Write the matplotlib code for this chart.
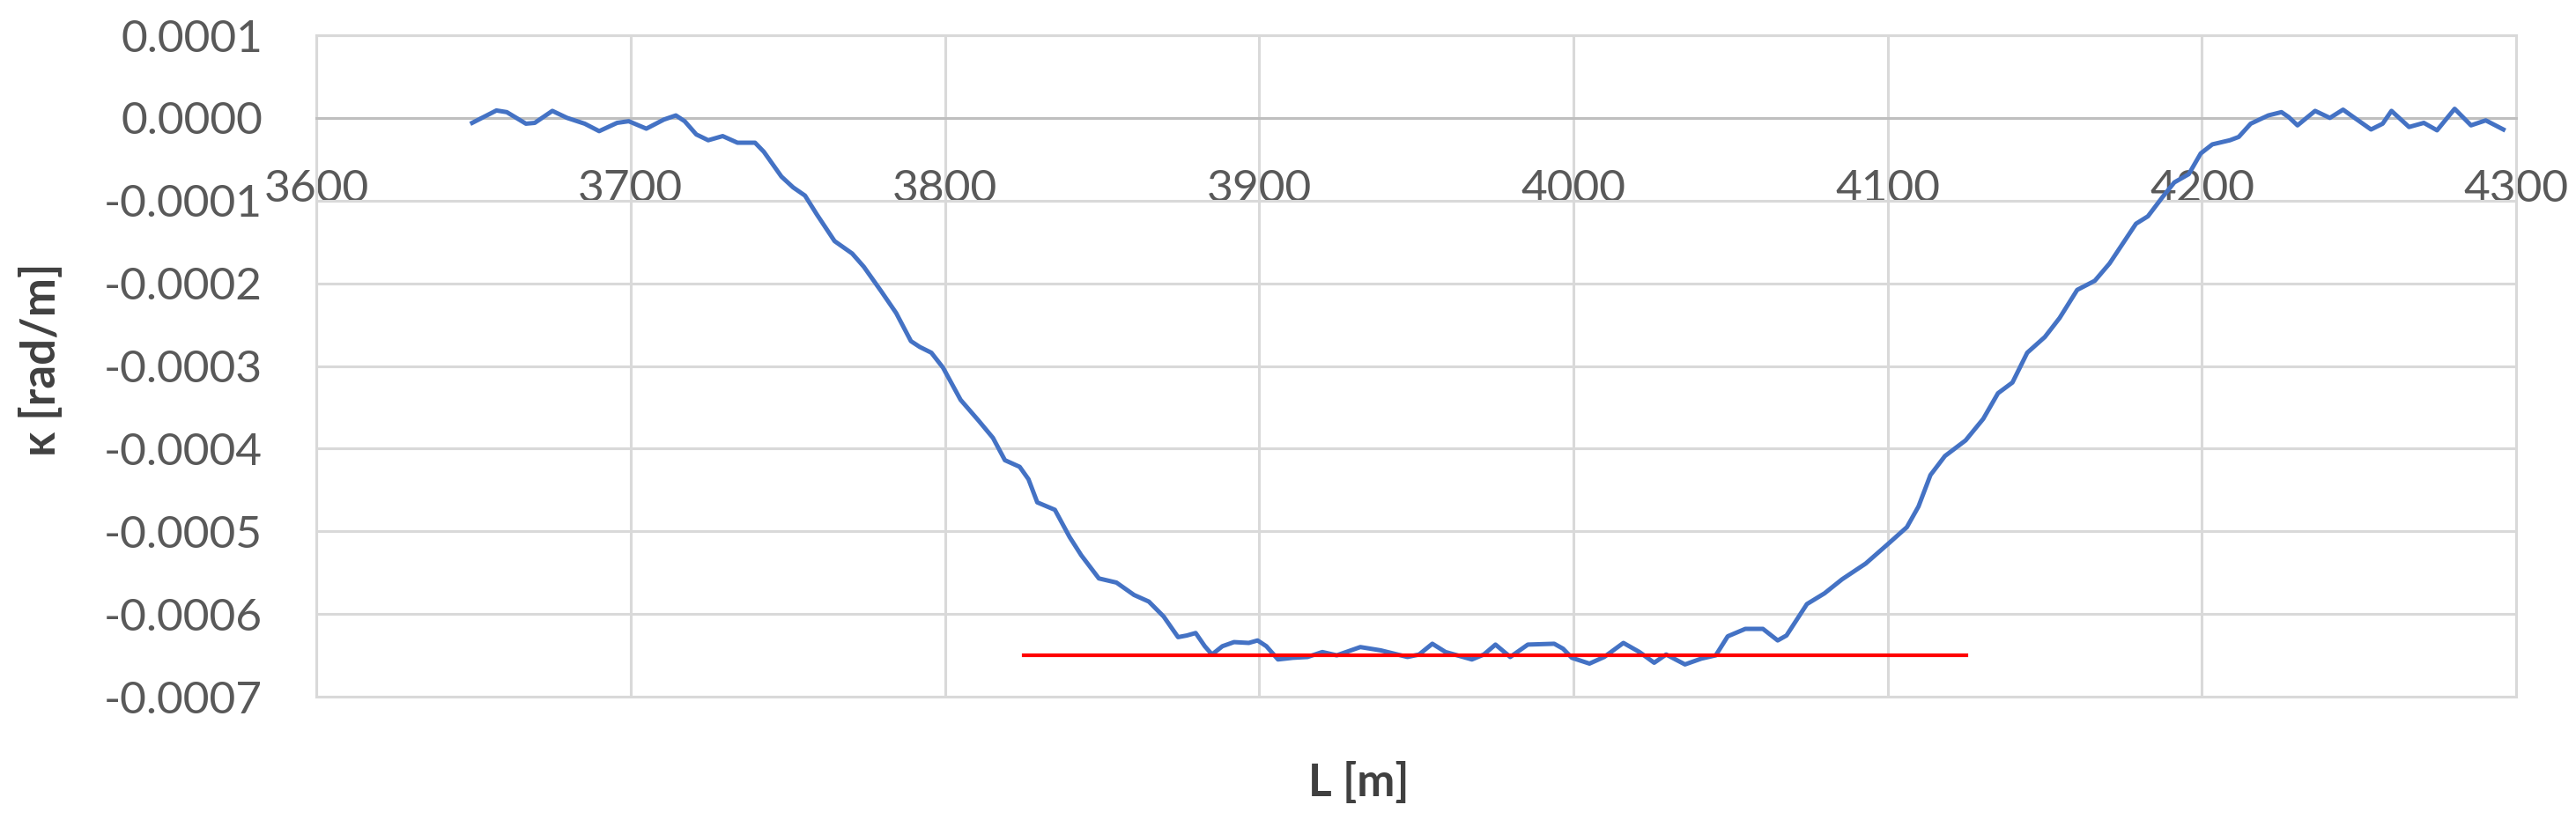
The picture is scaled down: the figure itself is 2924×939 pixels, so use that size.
import matplotlib
matplotlib.use('Agg')
import matplotlib.pyplot as plt
import numpy as np
from matplotlib.ticker import FixedLocator, FixedFormatter

# curvature along the chainage (kappa in 1e-4 rad/m)
L = [3649.6, 3657.3, 3660.6, 3666.7, 3669.5, 3675.1, 3679.8, 3685.4, 3690.0, 3695.7,
     3699.4, 3705.0, 3710.6, 3714.4, 3717.2, 3720.9, 3724.7, 3729.3, 3734.0, 3739.6,
     3742.4, 3748.0, 3751.7, 3755.5, 3759.3, 3764.9, 3770.5, 3774.2, 3779.8, 3784.5,
     3789.2, 3792.0, 3795.7, 3799.4, 3805.0, 3810.7, 3815.3, 3819.1, 3823.8, 3826.6,
     3829.4, 3835.0, 3839.7, 3843.4, 3849.0, 3854.6, 3860.2, 3864.9, 3869.6, 3874.2,
     3877.0, 3879.8, 3882.7, 3885.0, 3888.3, 3892.0, 3896.7, 3899.5, 3902.3, 3906.0,
     3910.7, 3915.4, 3920.1, 3924.7, 3932.2, 3938.7, 3947.2, 3950.9, 3955.1, 3959.3,
     3967.7, 3971.5, 3975.2, 3979.9, 3985.5, 3993.9, 3996.7, 3999.5, 4005.1, 4009.8,
     4015.9, 4021.0, 4025.7, 4029.5, 4035.5, 4040.7, 4045.3, 4049.1, 4054.7, 4060.3,
     4065.0, 4067.8, 4074.3, 4079.9, 4085.5, 4093.0, 4100.5, 4106.1, 4109.8, 4113.6,
     4118.2, 4124.8, 4130.4, 4135.1, 4139.7, 4144.4, 4150.0, 4154.7, 4160.3, 4165.9,
     4170.6, 4179.0, 4182.8, 4187.4, 4191.2, 4195.8, 4199.6, 4203.3, 4208.9, 4211.7,
     4215.5, 4221.1, 4225.3, 4227.6, 4230.4, 4236.0, 4240.7, 4244.9, 4248.2, 4253.8,
     4257.5, 4260.3, 4265.9, 4270.6, 4274.8, 4280.4, 4285.6, 4290.3, 4295.9]
kappa_1e4 = [-0.06, 0.09, 0.07, -0.07, -0.06, 0.085, 0.0, -0.07, -0.16, -0.06,
             -0.04, -0.13, -0.02, 0.03, -0.04, -0.20, -0.27, -0.22, -0.30, -0.30,
             -0.41, -0.71, -0.84, -0.94, -1.17, -1.49, -1.64, -1.80, -2.10, -2.36,
             -2.70, -2.77, -2.84, -3.02, -3.41, -3.66, -3.87, -4.14, -4.22, -4.37,
             -4.65, -4.74, -5.07, -5.29, -5.57, -5.62, -5.77, -5.85, -6.03, -6.28,
             -6.26, -6.23, -6.39, -6.49, -6.39, -6.34, -6.35, -6.32, -6.39, -6.55,
             -6.53, -6.52, -6.46, -6.50, -6.40, -6.44, -6.52, -6.49, -6.36, -6.46,
             -6.55, -6.49, -6.37, -6.52, -6.37, -6.36, -6.42, -6.53, -6.60, -6.52,
             -6.35, -6.46, -6.59, -6.49, -6.61, -6.54, -6.50, -6.27, -6.18, -6.18,
             -6.32, -6.26, -5.88, -5.75, -5.58, -5.39, -5.14, -4.95, -4.70, -4.32,
             -4.09, -3.90, -3.64, -3.33, -3.20, -2.84, -2.65, -2.42, -2.08, -1.97,
             -1.76, -1.28, -1.19, -0.96, -0.78, -0.68, -0.43, -0.32, -0.27, -0.23,
             -0.07, 0.03, 0.07, 0.01, -0.09, 0.085, 0.0, 0.10, 0.01, -0.14,
             -0.07, 0.085, -0.11, -0.06, -0.15, 0.11, -0.09, -0.03, -0.14]

# constant curvature line
fit_L = [3825, 4125]
fit_kappa = [-0.00065, -0.00065]

x_ticks = [3600, 3700, 3800, 3900, 4000, 4100, 4200, 4300]
x_labels = ['3600', '3700', '3800', '3900', '4000', '4100', '4200', '4300']
y_ticks = [0.0001, 0.0, -0.0001, -0.0002, -0.0003, -0.0004, -0.0005, -0.0006, -0.0007]
y_labels = ['0.0001', '0.0000', '-0.0001', '-0.0002', '-0.0003', '-0.0004',
            '-0.0005', '-0.0006', '-0.0007']

kappa = np.array(kappa_1e4) * 1e-4

plt.rcParams['font.family'] = ['Lato', 'DejaVu Sans']
grid_col = '#d9d9d9'
text_col = '#595959'

fig = plt.figure(figsize=(29.24, 9.39), dpi=100)
ax = fig.add_axes([0.1228, 0.1576, 0.854, 0.7998])

ax.plot(L, kappa, color='#4472C4', lw=3.6, zorder=3, solid_joinstyle='round')
ax.plot(fit_L, fit_kappa, color='#FF0000', lw=3.0, zorder=4)

ax.set_xlim(3600, 4300)
ax.set_ylim(-0.0007, 0.0001)
ax.xaxis.set_major_locator(FixedLocator(x_ticks))
ax.xaxis.set_major_formatter(FixedFormatter(x_labels))
ax.yaxis.set_major_locator(FixedLocator(y_ticks))
ax.yaxis.set_major_formatter(FixedFormatter(y_labels))

ax.grid(True, color=grid_col, lw=2.2, zorder=0)
ax.set_axisbelow(True)
ax.axhline(-0.0007, color=grid_col, lw=2.2, clip_on=False, zorder=1)

# x axis crosses at zero like in Excel
ax.spines['bottom'].set_position(('data', 0))
ax.spines['bottom'].set_color('#bfbfbf')
ax.spines['bottom'].set_linewidth(2.2)
for s in ['left', 'right', 'top']:
    ax.spines[s].set_color(grid_col)
    ax.spines[s].set_linewidth(2.2)

ax.tick_params(axis='both', length=0, labelsize=37, labelcolor=text_col)
ax.tick_params(axis='x', pad=42)
ax.tick_params(axis='y', pad=44)

ax.text(-0.125, 0.51, 'κ [rad/m]', transform=ax.transAxes, rotation=90,
        ha='center', va='center', fontsize=38, fontweight='bold', color='#404040')
fig.text(0.5274, 0.053, 'L [m]', ha='center', va='center', fontsize=37,
         fontweight='bold', color='#404040')

fig.savefig('out.png', dpi=100, facecolor='white')
